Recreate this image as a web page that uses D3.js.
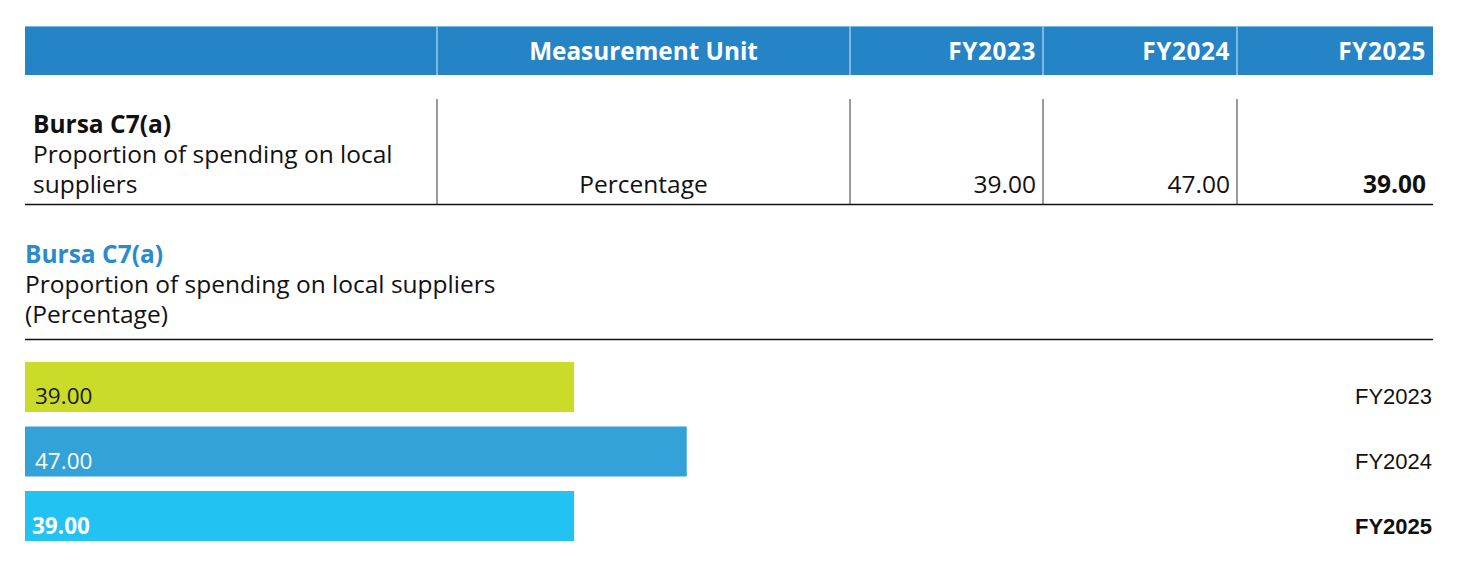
<!DOCTYPE html>
<html>
<head>
<meta charset="utf-8">
<script src="https://cdn.jsdelivr.net/npm/d3@7"></script>
<style>
  html, body { margin: 0; padding: 0; background: #fff; }
  svg { display: block; font-family: "Open Sans", "Noto Sans", sans-serif; }
</style>
</head>
<body>
<svg id="chart" width="1461" height="572"></svg>
<script>
// --- data ---
const years = ['FY2023', 'FY2024', 'FY2025'];
const values = [39.00, 47.00, 39.00];
const indicatorCode = 'Bursa C7(a)';
const indicatorName = 'Proportion of spending on local suppliers';
const unit = 'Percentage';
const barColors = ['#cbdb2a', '#33a2d9', '#22c3f2'];
const labelColors = ['#1a1a1a', '#ffffff', '#ffffff'];

const svg = d3.select('#chart');
const left = 25, right = 1433;
const fmt = d3.format('.2f');
const bodySize = 24.5, headSize = 24.3;

// ---- table ----
// column edges: label | unit | years...
const colEdges = [left, 437, 850, 1043, 1237, right];
const headBlue = '#2584c6';

svg.append('rect')
    .attr('x', left).attr('y', 26)
    .attr('width', right - left).attr('height', 49)
    .attr('fill', headBlue);
svg.append('line')
    .attr('x1', left).attr('x2', right).attr('y1', 26.5).attr('y2', 26.5)
    .attr('stroke', '#7fb6e0').attr('stroke-width', 1);

colEdges.slice(1, -1).forEach(x => {
    svg.append('line')
        .attr('x1', x).attr('x2', x).attr('y1', 26).attr('y2', 75)
        .attr('stroke', '#9ccaea').attr('stroke-width', 1.5);
    svg.append('line')
        .attr('x1', x).attr('x2', x).attr('y1', 99).attr('y2', 204)
        .attr('stroke', '#7a7a7a').attr('stroke-width', 1.5);
});

svg.append('line')
    .attr('x1', left).attr('x2', right).attr('y1', 204.5).attr('y2', 204.5)
    .attr('stroke', '#111').attr('stroke-width', 1.3);

// header texts
svg.append('text')
    .attr('x', (colEdges[1] + colEdges[2]) / 2).attr('y', 59.5)
    .attr('text-anchor', 'middle')
    .attr('font-size', headSize).attr('font-weight', 700).attr('fill', '#fff')
    .text('Measurement Unit');

years.forEach((y, i) => {
    svg.append('text')
        .attr('x', colEdges[i + 3] - 7).attr('y', 59.5)
        .attr('text-anchor', 'end')
        .attr('font-size', headSize).attr('font-weight', 700).attr('fill', '#fff')
        .attr('letter-spacing', 0.6)
        .text(y);
});

// row
const rowLines = [
    { t: indicatorCode, y: 133, w: 700 },
    { t: 'Proportion of spending on local', y: 163, w: 400 },
    { t: 'suppliers', y: 193, w: 400 }
];
rowLines.forEach(l => {
    svg.append('text')
        .attr('x', 33).attr('y', l.y)
        .attr('font-size', bodySize).attr('font-weight', l.w).attr('fill', '#111')
        .text(l.t);
});

svg.append('text')
    .attr('x', (colEdges[1] + colEdges[2]) / 2).attr('y', 193)
    .attr('text-anchor', 'middle')
    .attr('font-size', bodySize).attr('fill', '#111')
    .text(unit);

values.forEach((v, i) => {
    svg.append('text')
        .attr('x', colEdges[i + 3] - 7).attr('y', 193)
        .attr('text-anchor', 'end')
        .attr('font-size', bodySize).attr('fill', '#111')
        .attr('font-weight', i === values.length - 1 ? 700 : 400)
        .text(fmt(v));
});

// ---- bar chart ----
const titleLines = [
    { t: indicatorCode, y: 262.5, w: 700, c: '#2b8acb' },
    { t: indicatorName, y: 292.5, w: 400, c: '#111' },
    { t: '(' + unit + ')', y: 322.5, w: 400, c: '#111' }
];
titleLines.forEach(l => {
    svg.append('text')
        .attr('x', left).attr('y', l.y)
        .attr('font-size', bodySize).attr('font-weight', l.w).attr('fill', l.c)
        .text(l.t);
});

svg.append('line')
    .attr('x1', left).attr('x2', right).attr('y1', 339.5).attr('y2', 339.5)
    .attr('stroke', '#111').attr('stroke-width', 1.3);

const x = d3.scaleLinear().domain([0, 100]).range([left, right]);
const y = d3.scaleBand().domain(years).range([362, 541]).paddingInner(0.225).paddingOuter(0);

const rows = svg.append('g').selectAll('g')
    .data(years.map((yr, i) => ({ yr, v: values[i], i })))
    .join('g');

rows.append('rect')
    .attr('x', x(0))
    .attr('y', d => y(d.yr))
    .attr('width', d => x(d.v) - x(0))
    .attr('height', y.bandwidth())
    .attr('fill', d => barColors[d.i]);

rows.append('text')
    .attr('x', d => x(0) + (d.i === 2 ? 7 : 10))
    .attr('y', d => y(d.yr) + y.bandwidth() - 7.5)
    .attr('font-size', 22.5)
    .attr('font-weight', d => d.i === 2 ? 700 : 400)
    .attr('fill', d => labelColors[d.i])
    .text(d => fmt(d.v));

rows.append('text')
    .attr('x', right - 1)
    .attr('y', d => y(d.yr) + y.bandwidth() - 7.5)
    .attr('text-anchor', 'end')
    .attr('font-family', '"Liberation Sans", Arial, sans-serif')
    .attr('font-size', 22)
    .attr('font-weight', d => d.i === 2 ? 700 : 400)
    .attr('fill', '#111')
    .text(d => d.yr);
</script>
</body>
</html>
